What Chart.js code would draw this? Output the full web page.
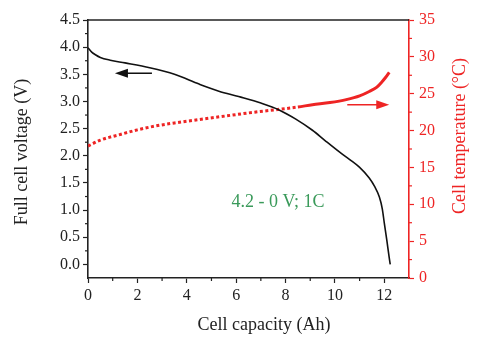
<!DOCTYPE html>
<html lang="en">
<head>
    <meta charset="UTF-8">
    <title>Full cell discharge</title>
    <script src="https://cdn.jsdelivr.net/npm/chart.js"></script>
    <style>
        html, body {
            margin: 0;
            padding: 0;
            background: #ffffff;
        }
        .chart-box {
            width: 479px;
            height: 338px;
        }
    </style>
</head>
<body>
    <div class="chart-box">
        <canvas id="dischargeChart" width="479" height="338"></canvas>
    </div>

    <script>
        // Discharge voltage curve (capacity in Ah, voltage in V)
        const voltageCapacity = [0, 0.15, 0.3, 0.5, 0.9, 1.5, 2.5, 3.5, 4.5, 5.3, 6.1, 7.0, 7.76, 8.4, 9.09, 9.6, 10.18, 10.6, 10.99, 11.39, 11.6, 11.8, 11.92, 12.0, 12.1, 12.2, 12.24];
        const voltage = [3.99, 3.91, 3.86, 3.81, 3.76, 3.71, 3.62, 3.50, 3.32, 3.19, 3.09, 2.97, 2.84, 2.68, 2.47, 2.28, 2.07, 1.93, 1.79, 1.59, 1.44, 1.24, 1.02, 0.76, 0.45, 0.12, 0.0];

        // Cell temperature during discharge (capacity in Ah, temperature in °C)
        const tempCapacity = [0, 0.5, 1.34, 2.0, 2.7, 3.64, 4.5, 5.4, 6.75, 7.8, 8.5, 9.09, 9.8, 10.46, 11.0, 11.39, 11.7, 11.9, 12.05, 12.2];
        const temperature = [17.9, 18.7, 19.5, 20.1, 20.6, 21.1, 21.5, 21.9, 22.5, 22.9, 23.2, 23.5, 23.8, 24.2, 24.7, 25.3, 25.9, 26.6, 27.2, 27.9];

        // Direction arrows: [x start, x end, y] on the axis each points to
        const voltageArrow = [2.59, 1.09, 3.52];
        const tempArrow = [10.5, 12.2, 23.5];

        const xTicks = [0, 2, 4, 6, 8, 10, 12];
        const voltageTicks = [0, 0.5, 1, 1.5, 2, 2.5, 3, 3.5, 4, 4.5];
        const tempTicks = [0, 5, 10, 15, 20, 25, 30, 35];

        const RED = '#ee2424';
        const INK = '#222222';
        const FONT = "'Liberation Serif', 'DejaVu Serif', serif";

        const pairs = (xs, ys) => xs.map((x, i) => ({ x: x, y: ys[i] }));

        function arrow(ctx, x0, x1, y, color) {
            const dir = Math.sign(x1 - x0);
            ctx.save();
            ctx.strokeStyle = color;
            ctx.fillStyle = color;
            ctx.lineWidth = 1.5;
            ctx.beginPath();
            ctx.moveTo(x0, y);
            ctx.lineTo(x1 - dir * 10, y);
            ctx.stroke();
            ctx.beginPath();
            ctx.moveTo(x1, y);
            ctx.lineTo(x1 - dir * 13, y - 4.5);
            ctx.lineTo(x1 - dir * 13, y + 4.5);
            ctx.closePath();
            ctx.fill();
            ctx.restore();
        }

        const decorations = {
            id: 'decorations',
            afterDraw(chart) {
                const { ctx, chartArea: a, scales } = chart;
                const x = scales.x, yV = scales.yV, yT = scales.yT;

                ctx.save();
                // top frame line
                ctx.strokeStyle = INK;
                ctx.lineWidth = 1.5;
                ctx.beginPath();
                ctx.moveTo(a.left, a.top);
                ctx.lineTo(a.right, a.top);
                ctx.stroke();

                // minor ticks
                ctx.lineWidth = 1.2;
                ctx.strokeStyle = INK;
                for (let v = 1; v < 13; v += 2) {
                    const px = x.getPixelForValue(v);
                    ctx.beginPath();
                    ctx.moveTo(px, a.bottom);
                    ctx.lineTo(px, a.bottom + 3);
                    ctx.stroke();
                }
                for (let v = 0.25; v < 4.5; v += 0.5) {
                    const py = yV.getPixelForValue(v);
                    ctx.beginPath();
                    ctx.moveTo(a.left, py);
                    ctx.lineTo(a.left - 3, py);
                    ctx.stroke();
                }
                ctx.strokeStyle = RED;
                for (let v = 2.5; v < 35; v += 5) {
                    const py = yT.getPixelForValue(v);
                    ctx.beginPath();
                    ctx.moveTo(a.right, py);
                    ctx.lineTo(a.right + 3, py);
                    ctx.stroke();
                }

                // arrows
                arrow(ctx, x.getPixelForValue(voltageArrow[0]), x.getPixelForValue(voltageArrow[1]),
                    yV.getPixelForValue(voltageArrow[2]), '#111111');
                arrow(ctx, x.getPixelForValue(tempArrow[0]), x.getPixelForValue(tempArrow[1]),
                    yT.getPixelForValue(tempArrow[2]), RED);

                // condition label
                ctx.fillStyle = '#3a9a5a';
                ctx.font = '18px ' + FONT;
                ctx.textAlign = 'center';
                ctx.textBaseline = 'middle';
                ctx.fillText('4.2 - 0 V; 1C', 278, 202);

                // axis titles
                ctx.font = '18px ' + FONT;
                ctx.fillStyle = INK;
                ctx.fillText('Cell capacity (Ah)', 264, 325);

                ctx.save();
                ctx.translate(22, 152);
                ctx.rotate(-Math.PI / 2);
                ctx.fillText('Full cell voltage (V)', 0, 0);
                ctx.restore();

                ctx.save();
                ctx.fillStyle = RED;
                ctx.translate(460, 136);
                ctx.rotate(-Math.PI / 2);
                ctx.fillText('Cell temperature (°C)', 0, 0);
                ctx.restore();

                ctx.restore();
            }
        };

        const ctx = document.getElementById('dischargeChart').getContext('2d');
        const dischargeChart = new Chart(ctx, {
            type: 'line',
            data: {
                datasets: [
                    {
                        label: 'Voltage',
                        data: pairs(voltageCapacity, voltage),
                        yAxisID: 'yV',
                        borderColor: '#111111',
                        borderWidth: 1.6,
                        pointRadius: 0,
                        cubicInterpolationMode: 'monotone'
                    },
                    {
                        label: 'Temperature',
                        data: pairs(tempCapacity, temperature),
                        yAxisID: 'yT',
                        borderColor: RED,
                        borderWidth: 3,
                        borderCapStyle: 'butt',
                        pointRadius: 0,
                        cubicInterpolationMode: 'monotone',
                        segment: {
                            borderDash: c => c.p0.parsed.x < 7.9 ? [3, 2.5] : undefined
                        }
                    }
                ]
            },
            options: {
                responsive: false,
                animation: false,
                layout: { padding: { top: 20, left: 0, right: 0, bottom: 0 } },
                plugins: {
                    legend: { display: false },
                    tooltip: { enabled: false }
                },
                scales: {
                    x: {
                        type: 'linear',
                        min: 0,
                        max: 13,
                        afterFit: s => { s.height = 60; },
                        afterBuildTicks: s => { s.ticks = xTicks.map(v => ({ value: v })); },
                        ticks: {
                            color: INK,
                            font: { family: FONT, size: 16 },
                            padding: 3,
                            maxRotation: 0,
                            callback: v => String(v)
                        },
                        border: { color: INK, width: 1.6 },
                        grid: { drawOnChartArea: false, tickLength: 5, tickColor: INK, tickWidth: 1.2 }
                    },
                    yV: {
                        type: 'linear',
                        position: 'left',
                        min: -0.25,
                        max: 4.5,
                        afterFit: s => { s.width = 88; },
                        afterBuildTicks: s => { s.ticks = voltageTicks.map(v => ({ value: v })); },
                        ticks: {
                            color: INK,
                            font: { family: FONT, size: 16 },
                            padding: 3,
                            callback: v => v.toFixed(1)
                        },
                        border: { color: INK, width: 1.6 },
                        grid: { drawOnChartArea: false, tickLength: 5, tickColor: INK, tickWidth: 1.2 }
                    },
                    yT: {
                        type: 'linear',
                        position: 'right',
                        min: 0,
                        max: 35,
                        afterFit: s => { s.width = 70; },
                        afterBuildTicks: s => { s.ticks = tempTicks.map(v => ({ value: v })); },
                        ticks: {
                            color: RED,
                            font: { family: FONT, size: 16 },
                            padding: 5,
                            callback: v => String(v)
                        },
                        border: { color: RED, width: 1.6 },
                        grid: { drawOnChartArea: false, tickLength: 5, tickColor: RED, tickWidth: 1.2 }
                    }
                }
            },
            plugins: [decorations]
        });
    </script>
</body>
</html>
